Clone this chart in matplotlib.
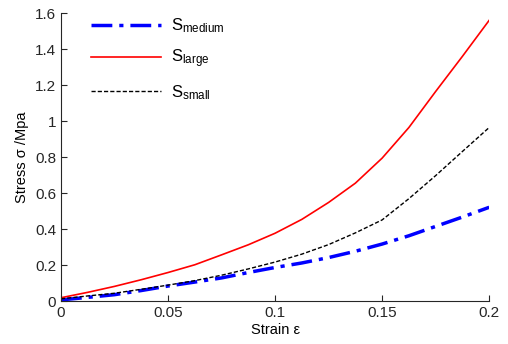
import matplotlib
matplotlib.use("Agg")
import matplotlib.pyplot as plt
from matplotlib.ticker import FuncFormatter

plt.rcParams['font.family'] = ['Liberation Sans', 'DejaVu Sans']
plt.rcParams['mathtext.fontset'] = 'custom'
plt.rcParams['mathtext.rm'] = 'Liberation Sans'
plt.rcParams['mathtext.it'] = 'Liberation Sans'

strain = [0, 0.0125, 0.025, 0.0375, 0.05, 0.0625, 0.075, 0.0875, 0.1,
          0.1125, 0.125, 0.1375, 0.15, 0.1625, 0.175, 0.1875, 0.2]
s_medium = [0.008, 0.022, 0.037, 0.06, 0.085, 0.107, 0.13, 0.16, 0.188,
            0.213, 0.243, 0.278, 0.318, 0.364, 0.416, 0.468, 0.522]
s_large = [0.02, 0.05, 0.083, 0.12, 0.16, 0.203, 0.258, 0.314, 0.378,
           0.455, 0.549, 0.656, 0.795, 0.965, 1.165, 1.36, 1.56]
s_small = [0.014, 0.03, 0.045, 0.067, 0.09, 0.115, 0.145, 0.18, 0.218,
           0.262, 0.315, 0.38, 0.452, 0.57, 0.698, 0.832, 0.965]

fig = plt.figure(figsize=(5.08, 3.44), dpi=100)
ax = fig.add_axes([0.120, 0.124, 0.843, 0.838])

ax.plot(strain, s_medium, color='blue', lw=2.5, ls=(0, (6, 2, 1.2, 2)), label=r'S$_{\mathrm{medium}}$')
ax.plot(strain, s_large, color='red', lw=1.2, label=r'S$_{\mathrm{large}}$')
ax.plot(strain, s_small, color='black', lw=1.0, ls=(0, (3, 1.5)), label=r'S$_{\mathrm{small}}$')

ax.set_xlim(0, 0.2)
ax.set_ylim(0, 1.6)
ax.set_xticks([0, 0.05, 0.1, 0.15, 0.2])
ax.set_yticks([0, 0.2, 0.4, 0.6, 0.8, 1.0, 1.2, 1.4, 1.6])
fmt = FuncFormatter(lambda v, p: '%g' % v)
ax.xaxis.set_major_formatter(fmt)
ax.yaxis.set_major_formatter(fmt)
ax.tick_params(direction='in', length=4, labelsize=11, colors='#262626')
ax.spines['top'].set_visible(False)
ax.spines['right'].set_visible(False)
for s in ['left', 'bottom']:
    ax.spines[s].set_color('#262626')

ax.set_xlabel('Strain ε', fontsize=10.5, labelpad=2)
ax.set_ylabel('Stress σ /Mpa', fontsize=10.5, labelpad=4)

ax.legend(loc='upper left', bbox_to_anchor=(0.035, 1.04), frameon=False, fontsize=12,
          handlelength=4.2, labelspacing=0.75, handletextpad=0.6)

fig.savefig('out.png', dpi=100)
